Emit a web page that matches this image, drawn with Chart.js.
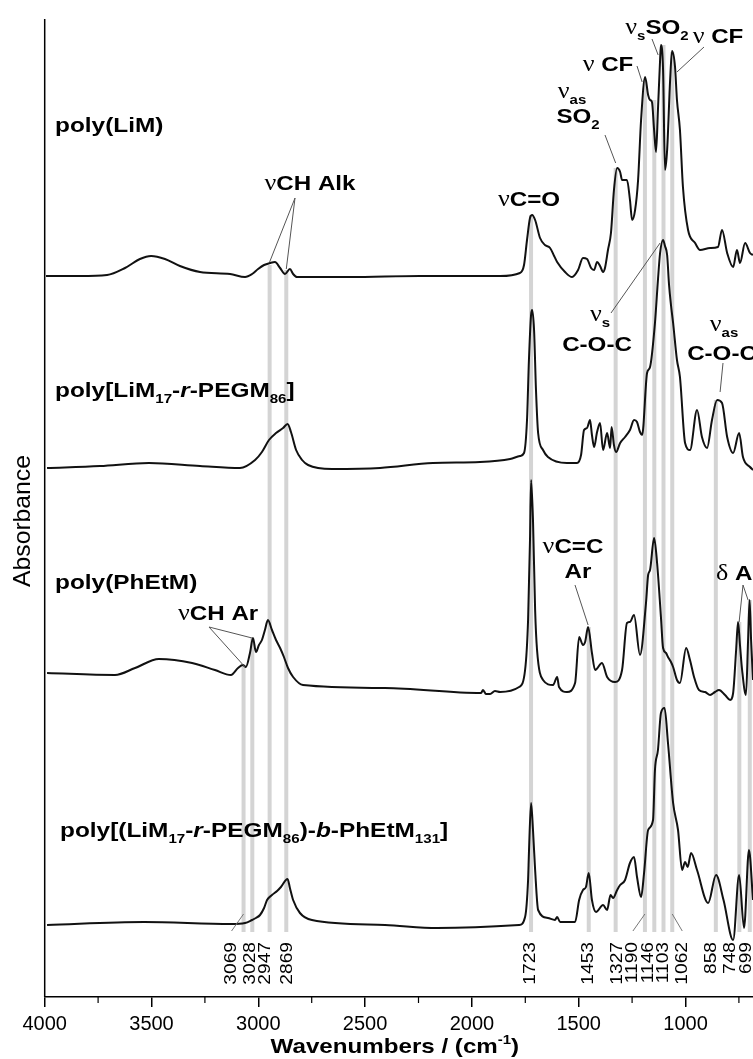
<!DOCTYPE html>
<html>
<head>
<meta charset="utf-8">
<script src="https://cdn.jsdelivr.net/npm/chart.js@4.4.1/dist/chart.umd.min.js"></script>
<style>
  html, body { margin: 0; padding: 0; background: #fff; }
  canvas { display: block; }
</style>
</head>
<body>
<canvas id="ftirChart" width="753" height="1059"></canvas>
<script>
// FTIR spectra, stacked (absorbance in arbitrary offset units), x = wavenumber / cm-1
const wnLiM = [3994,3835,3708,3624,3554,3502,3437,3367,3273,3132,3062,3029,3001,2973,2945,2922,2898,2875,2852,2837,2819,2571,2243,1868,1775,1756,1742,1728,1718,1704,1681,1658,1634,1615,1601,1564,1531,1503,1480,1461,1442,1428,1414,1400,1386,1377,1363,1349,1335,1320,1306,1297,1274,1260,1250,1236,1222,1208,1189,1175,1166,1157,1147,1138,1129,1119,1115,1105,1096,1086,1072,1063,1049,1040,1026,1012,988,955,932,885,848,829,805,777,759,745,721,698,684];
const absLiM = [721,721,722,729,738,741,738,731,725,723,720,723,728,732,734,735,729,723,728,723,720,720,721,721,724,732,757,779,782,777,759,752,749,741,735,725,720,727,739,738,729,727,735,731,725,729,747,764,807,829,825,817,817,797,777,787,817,877,920,902,897,895,867,845,887,937,952,927,827,847,917,946,930,897,867,810,767,754,747,749,750,767,744,730,747,734,754,744,742];

const wnPEG = [3989,3741,3512,3273,3086,3015,2983,2950,2917,2884,2863,2847,2823,2795,2767,2655,2430,2182,1962,1821,1775,1756,1742,1733,1723,1718,1709,1700,1690,1667,1644,1555,1508,1489,1475,1461,1447,1438,1428,1414,1400,1386,1367,1353,1346,1335,1325,1306,1283,1260,1241,1227,1213,1203,1180,1166,1143,1129,1119,1105,1096,1086,1077,1068,1058,1040,1026,1002,979,946,923,899,876,852,829,805,777,749,731,698,684];
const absPEG = [529,531,534,531,529,537,545,557,564,569,573,565,547,537,532,528,529,534,535,538,541,544,577,637,682,687,667,607,564,547,540,534,534,542,567,569,577,562,550,565,574,547,564,549,570,552,545,554,560,567,577,575,565,562,624,630,674,717,744,757,751,742,712,692,674,637,620,554,547,587,560,549,577,597,594,560,544,564,540,530,527];

const wnPh = [3989,3671,3577,3465,3310,3203,3128,3095,3072,3058,3039,3025,3011,2997,2983,2969,2955,2936,2917,2898,2880,2861,2837,2791,2407,1957,1948,1934,1915,1892,1868,1779,1751,1737,1728,1723,1714,1704,1695,1667,1620,1601,1592,1555,1517,1498,1480,1470,1456,1438,1423,1391,1367,1330,1297,1274,1260,1241,1213,1185,1175,1166,1147,1133,1115,1105,1091,1082,1068,1058,1040,1026,997,979,960,937,908,885,862,843,815,791,777,763,754,745,735,717,707,700,693,684];
const absPh = [324,322,329,338,334,327,322,329,332,330,344,359,345,352,357,367,377,367,357,349,340,329,320,312,309,304,307,303,303,306,305,310,327,377,457,517,477,387,347,317,312,320,310,305,314,360,352,355,370,344,327,334,320,315,327,374,375,382,342,394,422,427,459,434,380,349,344,340,335,330,317,314,349,337,320,307,305,302,305,307,302,297,304,347,375,352,327,302,357,397,357,317];

const wnBlock = [3989,3535,3128,3062,3029,3011,2992,2973,2959,2936,2912,2894,2863,2852,2837,2805,2749,2407,2163,1779,1751,1737,1733,1723,1714,1704,1690,1644,1611,1601,1587,1517,1498,1480,1466,1453,1438,1419,1386,1367,1351,1339,1320,1306,1283,1260,1241,1227,1208,1194,1175,1152,1143,1129,1115,1098,1082,1058,1035,1016,1002,990,974,946,894,857,822,777,749,726,703,684];
const absBlock = [72,75,73,74,77,79,82,89,97,102,106,110,118,109,97,84,77,72,69,72,80,117,144,194,167,127,87,79,77,80,75,75,97,107,110,124,97,85,92,87,102,99,107,112,117,134,140,120,100,124,167,177,227,247,284,289,254,194,167,127,135,130,144,127,94,122,97,57,122,69,147,97];

// marked bands: wavenumber, top of the grey guide (same units as spectra)
const peakWn  = [3069, 3028, 2947, 2869, 1723, 1453, 1327, 1190, 1146, 1103, 1062, 858, 748, 699];
const peakTop = [332, 359, 732, 727, 782, 370, 829, 917, 897, 952, 945, 597, 375, 397];
const peakBottom = 65;

const xMajor = [4000, 3500, 3000, 2500, 2000, 1500, 1000];
const xMinor = [3750, 3250, 2750, 2250, 1750, 1250, 750];

// --- layout / style (pixels) ---
const SANS = '"Liberation Sans", Arial, sans-serif';
const SERIF = '"Liberation Serif", "Times New Roman", serif';
const X_AXIS_HEIGHT = 62;
const peakLabelDx = [-12, -2, -4, 1, 0, 0, 2, -12, -6, 0, 10, -4, -9, -3];
const peakLeader = [true, false, false, false, false, false, false, true, false, false, true, false, false, false];

// rich text pieces
const T = t => ({ t });
const I = t => ({ t, it: true });
const G = t => ({ t, k: 'g' });
const Sb = t => ({ t, k: 'sub' });
const Sp = t => ({ t, k: 'sup' });

const seriesLabels = [
  { segs: [T('poly(LiM)')], x: 55, y: 125 },
  { segs: [T('poly[LiM'), Sb('17'), T('-'), I('r'), T('-PEGM'), Sb('86'), T(']')], x: 55, y: 390 },
  { segs: [T('poly(PhEtM)')], x: 55, y: 582 },
  { segs: [T('poly[(LiM'), Sb('17'), T('-'), I('r'), T('-PEGM'), Sb('86'), T(')-'), I('b'), T('-PhEtM'), Sb('131'), T(']')], x: 60, y: 830 }
];

// band annotations: text (px) and leader lines from px point to [wn, absorbance]
const notes = [
  { segs: [G('ν'), T('CH Alk')], x: 310, y: 182, align: 'center', leaders: [[295, 198, 2947, 735], [295, 198, 2869, 728]] },
  { segs: [G('ν'), T('C=O')], x: 498, y: 198, align: 'left', leaders: [] },
  { segs: [G('ν'), Sb('as')], x: 572, y: 90, align: 'center', leaders: [] },
  { segs: [T('SO'), Sb('2')], x: 578, y: 115, align: 'center', leaders: [[605, 135, 1327, 834]] },
  { segs: [G('ν'), T(' CF')], x: 608, y: 63, align: 'center', leaders: [[637, 66, 1203, 915]] },
  { segs: [G('ν'), Sb('s'), T('SO'), Sb('2')], x: 657, y: 26, align: 'center', leaders: [[652, 39, 1128, 942]] },
  { segs: [G('ν'), T(' CF')], x: 718, y: 35, align: 'center', leaders: [[704, 47, 1040, 925]] },
  { segs: [G('ν'), Sb('s')], x: 600, y: 313, align: 'center', leaders: [[611, 313, 1119, 754]] },
  { segs: [T('C-O-C')], x: 597, y: 343, align: 'center', leaders: [] },
  { segs: [G('ν'), Sb('as')], x: 724, y: 323, align: 'center', leaders: [] },
  { segs: [T('C-O-C')], x: 722, y: 352, align: 'center', leaders: [[723, 363, 838, 605]] },
  { segs: [G('ν'), T('C=C')], x: 573, y: 545, align: 'center', leaders: [] },
  { segs: [T('Ar')], x: 578, y: 570, align: 'center', leaders: [[575, 585, 1456, 372]] },
  { segs: [G('δ'), T(' Ar')], x: 716, y: 572, align: 'left', leaders: [[743, 585, 749, 375], [743, 585, 707, 397]] },
  { segs: [G('ν'), T('CH Ar')], x: 178, y: 612, align: 'left', leaders: [[209, 627, 3062, 330], [209, 627, 3029, 359]] }
];

function drawRich(ctx, segs, x, yMid, size, sx, align, bold = true) {
  const base = yMid + 0.36 * size;
  let total = 0;
  const parts = segs.map(s => {
    let fs = size, font;
    if (s.k === 'sub' || s.k === 'sup') fs = size * 0.62;
    if (s.k === 'g') {
      fs = size * 1.08;
      font = `${fs}px ${SERIF}`;
    } else {
      font = `${s.it ? 'italic ' : ''}${bold ? 'bold ' : ''}${fs}px ${SANS}`;
    }
    ctx.font = font;
    const w = ctx.measureText(s.t).width * sx;
    total += w;
    const dy = s.k === 'sub' ? size * 0.3 : s.k === 'sup' ? -size * 0.42 : 0;
    return { t: s.t, font, w, dy };
  });
  let cx = align === 'center' ? x - total / 2 : x;
  parts.forEach(p => {
    ctx.save();
    ctx.font = p.font;
    ctx.textAlign = 'left';
    ctx.textBaseline = 'alphabetic';
    ctx.translate(cx, base + p.dy);
    ctx.scale(sx, 1);
    ctx.fillText(p.t, 0, 0);
    ctx.restore();
    cx += p.w;
  });
}

const zip = (xs, ys) => xs.map((v, i) => ({ x: v, y: ys[i] }));

const spectrum = (data) => ({
  data, borderColor: '#111', borderWidth: 2, pointRadius: 0,
  cubicInterpolationMode: 'monotone', order: 0
});

const guides = peakWn.map((w, i) => ({
  data: [{ x: w, y: peakTop[i] }, { x: w, y: peakBottom }],
  borderColor: '#d4d4d4', borderWidth: 4, pointRadius: 0, order: 5
}));

const decor = {
  id: 'decor',
  afterDatasetsDraw(chart) {
    const { ctx, chartArea: a, scales: { x, y } } = chart;
    ctx.save();
    ctx.fillStyle = '#000';
    ctx.strokeStyle = '#000';

    // y axis line (no ticks)
    ctx.lineWidth = 1.5;
    ctx.beginPath();
    ctx.moveTo(a.left, a.top);
    ctx.lineTo(a.left, a.bottom);
    ctx.stroke();

    // minor x ticks
    ctx.lineWidth = 1.2;
    xMinor.forEach(v => {
      const px = x.getPixelForValue(v);
      ctx.beginPath();
      ctx.moveTo(px, a.bottom);
      ctx.lineTo(px, a.bottom + 6);
      ctx.stroke();
    });

    // rotated band positions + small leaders
    ctx.strokeStyle = '#777';
    ctx.lineWidth = 1;
    peakWn.forEach((w, i) => {
      const lx = x.getPixelForValue(w);
      const tx = lx + peakLabelDx[i];
      if (peakLeader[i]) {
        ctx.beginPath();
        ctx.moveTo(tx, 931);
        ctx.lineTo(lx, 914);
        ctx.stroke();
      }
      ctx.save();
      ctx.translate(tx, 942);
      ctx.rotate(-Math.PI / 2);
      ctx.scale(1.2, 1);
      ctx.font = `16px ${SANS}`;
      ctx.textAlign = 'right';
      ctx.textBaseline = 'middle';
      ctx.fillText(String(w), 0, 0);
      ctx.restore();
    });

    // annotation leaders
    ctx.strokeStyle = '#555';
    ctx.lineWidth = 1;
    notes.forEach(n => n.leaders.forEach(l => {
      ctx.beginPath();
      ctx.moveTo(l[0], l[1]);
      ctx.lineTo(x.getPixelForValue(l[2]), y.getPixelForValue(l[3]));
      ctx.stroke();
    }));

    // annotation texts
    notes.forEach(n => drawRich(ctx, n.segs, n.x, n.y, 21, 1.15, n.align));

    // series names
    seriesLabels.forEach(s => drawRich(ctx, s.segs, s.x, s.y, 20, 1.22, 'left'));

    // axis titles
    drawRich(ctx, [T('Wavenumbers / (cm'), Sp('-1'), T(')')], (a.left + a.right) / 2 - 4, 1045, 21, 1.15, 'center');
    ctx.save();
    ctx.translate(21, 521);
    ctx.rotate(-Math.PI / 2);
    drawRich(ctx, [T('Absorbance')], 0, 0, 24, 1.03, 'center', false);
    ctx.restore();

    ctx.restore();
  }
};

Chart.defaults.font.family = SANS;
Chart.defaults.color = '#000';

new Chart(document.getElementById('ftirChart'), {
  type: 'line',
  data: {
    datasets: [
      spectrum(zip(wnLiM, absLiM)),
      spectrum(zip(wnPEG, absPEG)),
      spectrum(zip(wnPh, absPh)),
      spectrum(zip(wnBlock, absBlock)),
      ...guides
    ]
  },
  options: {
    responsive: false,
    animation: false,
    devicePixelRatio: 1,
    layout: { padding: { left: 44.7, right: 0, top: 19, bottom: 0 } },
    plugins: { legend: { display: false }, tooltip: { enabled: false } },
    scales: {
      x: {
        type: 'linear',
        reverse: true,
        min: 684,
        max: 4000,
        afterBuildTicks: scale => { scale.ticks = xMajor.map(v => ({ value: v })); },
        afterFit: scale => { scale.height = X_AXIS_HEIGHT; },
        ticks: {
          font: { size: 20 }, color: '#000', padding: 5, autoSkip: false, maxRotation: 0,
          callback: v => String(v)
        },
        grid: { drawOnChartArea: false, drawTicks: true, tickLength: 10, color: '#000', lineWidth: 1.5 },
        border: { display: true, color: '#000', width: 1.5 }
      },
      y: {
        type: 'linear',
        display: false,
        min: 0,
        max: 978
      }
    }
  },
  plugins: [decor]
});
</script>
</body>
</html>
